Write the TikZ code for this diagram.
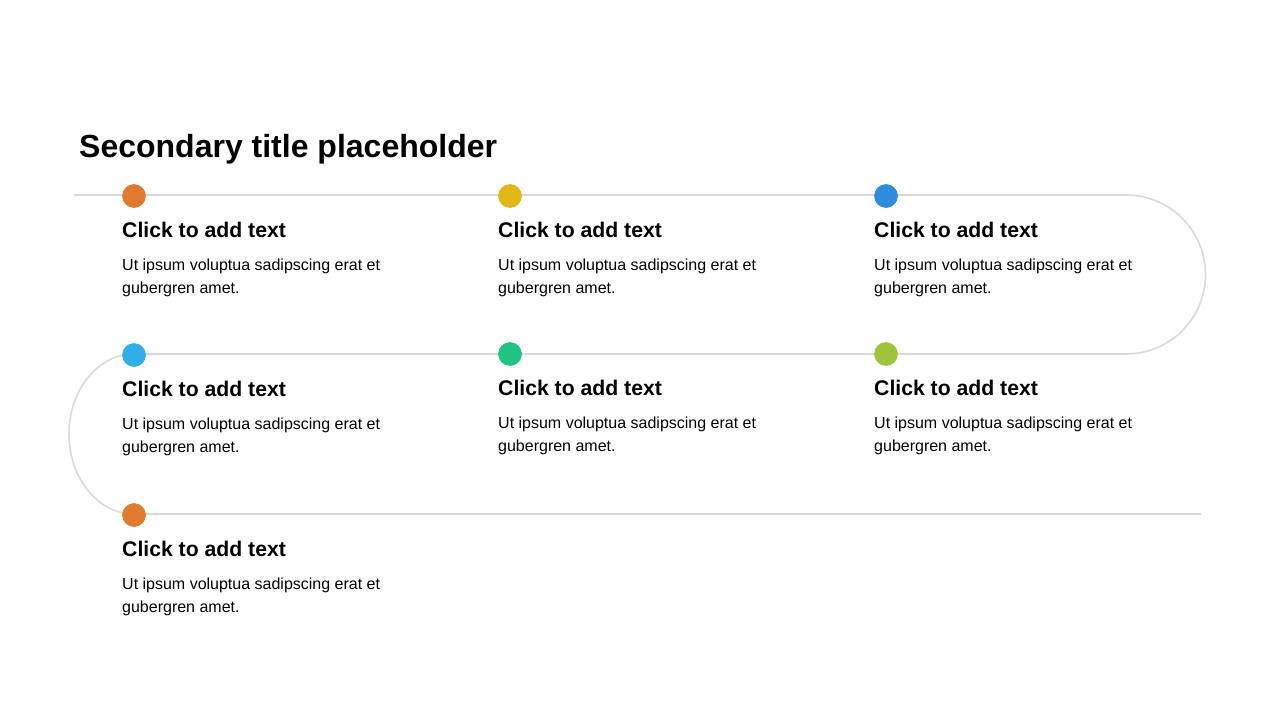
\documentclass[tikz,border=0pt]{standalone}
\usepackage{fontspec}
\setmainfont{Liberation Sans}
\definecolor{cOrange}{HTML}{E07A2E}
\definecolor{cYellow}{HTML}{E3B716}
\definecolor{cBlue}{HTML}{2E8BE0}
\definecolor{cSky}{HTML}{30AEEA}
\definecolor{cGreen}{HTML}{1EC47F}
\definecolor{cLime}{HTML}{9DC43A}
\definecolor{cLine}{HTML}{DADADA}
\tikzset{
  dotmark/.style={circle, fill=#1, draw=#1, line width=0.6pt, minimum size=23pt, inner sep=0pt},
  headtxt/.style={anchor=base west, inner sep=0pt, font=\fontsize{21.2}{25}\selectfont\bfseries},
  bodytxt/.style={anchor=north west, inner sep=0pt, align=left, font=\fontsize{16}{23}\selectfont},
  track/.style={draw=cLine, line width=1.6pt},
}
\newcommand{\stepitem}[4]{%
  \node[dotmark=#3] (d#4) at (#1,#2) {};
  \node[headtxt] (h#4) at ([xshift=-12pt, yshift=-41.5pt]d#4.center) {Click to add text};
  \node[bodytxt] (b#4) at ([xshift=-12pt, yshift=-62.5pt]d#4.center) {Ut ipsum voluptua sadipscing erat et\\gubergren amet.};
}
\begin{document}
\begin{tikzpicture}[x=1pt,y=-1pt]
\useasboundingbox (0,0) rectangle (1280,720);
\fill[white] (0,0) rectangle (1280,720);
\coordinate (s) at (74,195);
\coordinate (r1) at (1126,195);
\coordinate (l1) at (134,354);
\coordinate (e) at (1201,514);
\draw[track] (s) -- (r1) arc[start angle=90, end angle=-90, radius=79.5pt] -- (l1)
  arc[start angle=90, end angle=270, x radius=65pt, y radius=80pt] -- (e);
\node[anchor=base west, inner sep=0pt, font=\fontsize{32}{38}\selectfont\bfseries] (title) at (79,157) {Secondary title placeholder};
\stepitem{134}{196}{cOrange}{1}
\stepitem{510}{196}{cYellow}{2}
\stepitem{886}{196}{cBlue}{3}
\stepitem{134}{355}{cSky}{4}
\stepitem{510}{354}{cGreen}{5}
\stepitem{886}{354}{cLime}{6}
\stepitem{134}{515}{cOrange}{7}
\end{tikzpicture}
\end{document}
